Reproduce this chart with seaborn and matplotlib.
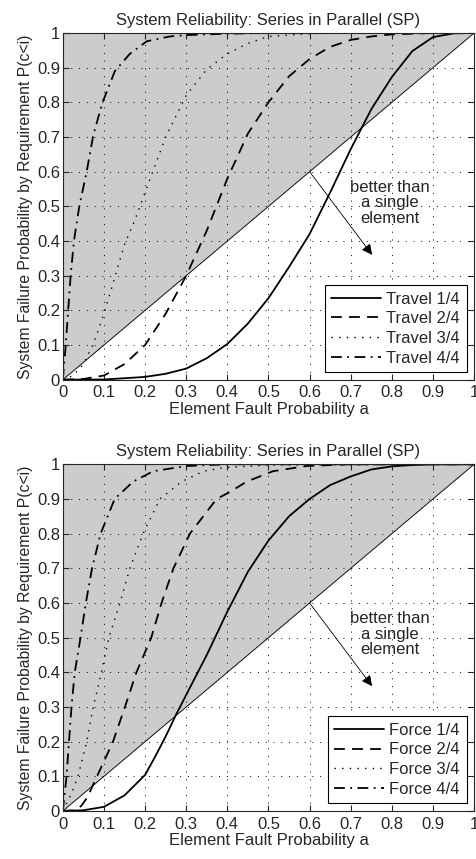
import numpy as np
import pandas as pd
import matplotlib
matplotlib.use("Agg")
import matplotlib.pyplot as plt
import seaborn as sns

# top panel: Travel
travel_1_a = [0, 0.1, 0.2, 0.25, 0.3, 0.35, 0.4, 0.45, 0.5, 0.55, 0.6, 0.65, 0.7, 0.75, 0.8, 0.85, 0.9, 0.95, 1.0]
travel_1_p = [0, 0.0005, 0.008, 0.017, 0.032, 0.062, 0.103, 0.162, 0.235, 0.325, 0.42, 0.54, 0.665, 0.78, 0.873, 0.948, 0.988, 0.999, 1.0]
travel_2_a = [0, 0.05, 0.1, 0.15, 0.2, 0.25, 0.3, 0.35, 0.4, 0.45, 0.5, 0.55, 0.6, 0.65, 0.7, 0.75, 0.8, 0.9, 1.0]
travel_2_p = [0, 0.002, 0.012, 0.045, 0.1, 0.19, 0.3, 0.43, 0.58, 0.71, 0.80, 0.875, 0.925, 0.96, 0.98, 0.99, 0.996, 1.0, 1.0]
travel_3_a = [0, 0.025, 0.05, 0.075, 0.1, 0.125, 0.15, 0.175, 0.2, 0.225, 0.25, 0.3, 0.35, 0.4, 0.45, 0.5, 0.6, 0.7, 1.0]
travel_3_p = [0, 0.012, 0.045, 0.105, 0.19, 0.29, 0.39, 0.46, 0.54, 0.62, 0.70, 0.82, 0.895, 0.94, 0.97, 0.99, 0.998, 1.0, 1.0]
travel_4_a = [0, 0.007, 0.013, 0.019, 0.027, 0.04, 0.058, 0.074, 0.0965, 0.1265, 0.163, 0.204, 0.26, 0.3, 0.4, 0.5, 1.0]
travel_4_p = [0, 0.1, 0.2, 0.3, 0.4, 0.5, 0.6, 0.705, 0.8, 0.89, 0.94, 0.976, 0.99, 0.994, 0.998, 1.0, 1.0]

# bottom panel: Force
force_1_a = [0, 0.05, 0.1, 0.15, 0.2, 0.225, 0.25, 0.275, 0.3, 0.35, 0.4, 0.45, 0.5, 0.55, 0.6, 0.65, 0.7, 0.75, 0.8, 0.85, 0.9, 1.0]
force_1_p = [0, 0.002, 0.012, 0.045, 0.104, 0.158, 0.215, 0.277, 0.335, 0.45, 0.575, 0.69, 0.78, 0.85, 0.90, 0.94, 0.965, 0.985, 0.994, 0.998, 1.0, 1.0]
force_2_a = [0, 0.03, 0.045, 0.06, 0.083, 0.1, 0.122, 0.151, 0.179, 0.215, 0.24, 0.269, 0.309, 0.374, 0.406, 0.447, 0.511, 0.593, 0.7, 1.0]
force_2_p = [0, 0.002, 0.015, 0.04, 0.1, 0.143, 0.2, 0.3, 0.4, 0.5, 0.6, 0.7, 0.8, 0.9, 0.92, 0.95, 0.98, 0.995, 1.0, 1.0]
force_3_a = [0, 0.021, 0.037, 0.058, 0.074, 0.094, 0.112, 0.139, 0.163, 0.195, 0.236, 0.289, 0.342, 0.39, 0.5, 1.0]
force_3_p = [0, 0.05, 0.1, 0.2, 0.3, 0.4, 0.5, 0.6, 0.7, 0.8, 0.9, 0.95, 0.98, 0.99, 0.998, 1.0]
force_4_a = [0, 0.009, 0.015, 0.021, 0.029, 0.043, 0.056, 0.071, 0.092, 0.126, 0.171, 0.22, 0.3, 0.4, 1.0]
force_4_p = [0, 0.1, 0.2, 0.3, 0.4, 0.5, 0.6, 0.7, 0.8, 0.9, 0.95, 0.98, 0.995, 1.0, 1.0]

ticks = [0, 0.1, 0.2, 0.3, 0.4, 0.5, 0.6, 0.7, 0.8, 0.9, 1]
tick_labels = ['0', '0.1', '0.2', '0.3', '0.4', '0.5', '0.6', '0.7', '0.8', '0.9', '1']

sns.set_style("ticks")
plt.rcParams['font.family'] = ['Liberation Sans', 'DejaVu Sans']
plt.rcParams['font.size'] = 12

styles = ['-', (0, (6, 4)), (0, (1, 4.5)), (0, (6, 3, 1, 3))]
widths = [1.3, 1.3, 1.0, 1.3]


def draw_panel(ax, name, curves):
    ax.fill_between([0, 1], [0, 1], [1, 1], color='#cccccc', lw=0, zorder=1)
    ax.plot([0, 1], [0, 1], color='k', lw=0.6, zorder=1.2)
    for i, (a, p) in enumerate(curves):
        df = pd.DataFrame({'a': a, 'p': p})
        sns.lineplot(data=df, x='a', y='p', ax=ax, color='k', lw=widths[i],
                     linestyle=styles[i], estimator=None,
                     label='{} {}/4'.format(name, i + 1), zorder=3)
    ax.set_xlim(0, 1)
    ax.set_ylim(0, 1)
    ax.set_xticks(ticks)
    ax.set_xticklabels(tick_labels)
    ax.set_yticks(ticks)
    ax.set_yticklabels(tick_labels)
    ax.tick_params(direction='in', top=True, right=True, length=4, width=0.8,
                   labelsize=12)
    ax.tick_params(axis='x', pad=4)
    ax.tick_params(axis='y', pad=2)
    ax.grid(True, linestyle=(0, (1, 7)), color='k', lw=0.7)
    ax.set_axisbelow('line')
    for s in ax.spines.values():
        s.set_linewidth(0.8)
        s.set_zorder(5)
    ax.set_title('System Reliability: Series in Parallel (SP)', fontsize=12, pad=6)
    ax.set_xlabel('Element Fault Probability a', fontsize=12, labelpad=1)
    ax.set_ylabel('System Failure Probability by Requirement P(c<i)', fontsize=11.3, labelpad=3)
    ax.annotate('', xy=(0.752, 0.36), xytext=(0.6, 0.6),
                arrowprops=dict(arrowstyle='-|>', color='k', lw=0.6,
                                mutation_scale=16, shrinkA=0, shrinkB=0),
                zorder=4)
    ax.text(0.795, 0.51, 'better than\na single\nelement', ha='center', va='center',
            fontsize=12, linespacing=1.05, zorder=4)
    leg = ax.legend(loc='lower right', handlelength=3.0, fontsize=12, frameon=True,
                    fancybox=False, borderpad=0.4, labelspacing=0.28,
                    handletextpad=0.3, borderaxespad=0.45, edgecolor='k', framealpha=1)
    leg.get_frame().set_linewidth(0.8)
    leg.set_zorder(6)


fig, axes = plt.subplots(2, 1, figsize=(4.76, 8.59), dpi=100)
fig.subplots_adjust(left=0.132, right=0.996, top=0.9616, bottom=0.0559, hspace=0.244)

draw_panel(axes[0], 'Travel', [(travel_1_a, travel_1_p), (travel_2_a, travel_2_p),
                               (travel_3_a, travel_3_p), (travel_4_a, travel_4_p)])
draw_panel(axes[1], 'Force', [(force_1_a, force_1_p), (force_2_a, force_2_p),
                              (force_3_a, force_3_p), (force_4_a, force_4_p)])

fig.savefig('out.png', dpi=100)
